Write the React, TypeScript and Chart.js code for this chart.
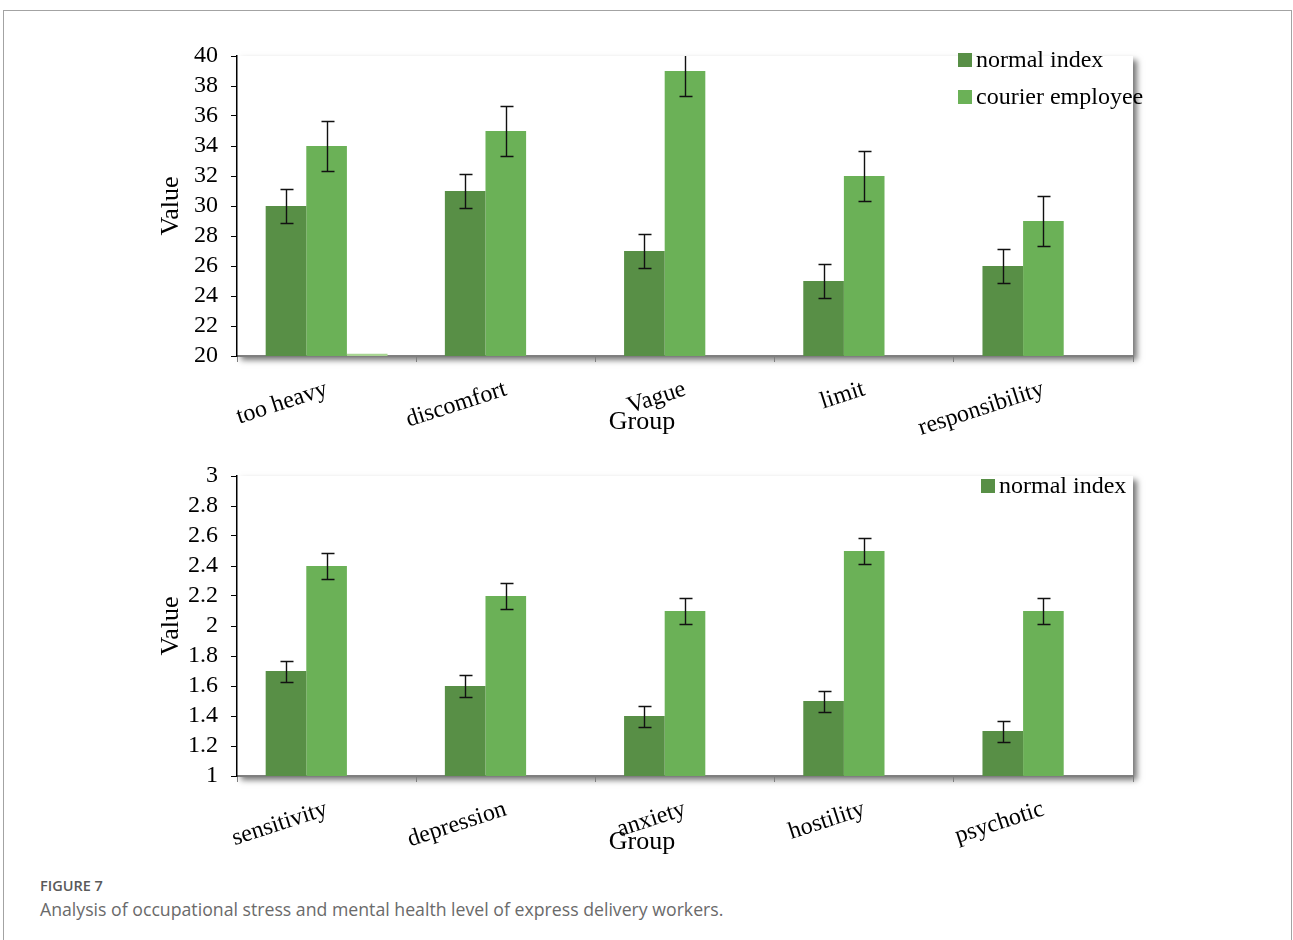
import React, { useEffect, useRef } from "react";
import { Chart, registerables } from "chart.js";

Chart.register(...registerables);

// Occupational stress panel
const stressGroups = ["too heavy", "discomfort", "Vague", "limit", "responsibility"];
const stressNormal = [30, 31, 27, 25, 26];
const stressCourier = [34, 35, 39, 32, 29];
const stressExtra = [20.15, null, null, null, null];
const stressNormalErr = [1.15, 1.15, 1.15, 1.15, 1.15];
const stressCourierErr = [1.67, 1.65, 1.67, 1.67, 1.67];

// Mental health panel
const healthGroups = ["sensitivity", "depression", "anxiety", "hostility", "psychotic"];
const healthNormal = [1.7, 1.6, 1.4, 1.5, 1.3];
const healthCourier = [2.4, 2.2, 2.1, 2.5, 2.1];
const healthExtra = [null, null, null, null, null];
const healthNormalErr = [0.07, 0.07, 0.07, 0.07, 0.07];
const healthCourierErr = [0.085, 0.085, 0.085, 0.085, 0.085];

const SERIES_NAMES = ["normal index", "courier employee"];

const DARK = "#588f46";
const LIGHT = "#6bb157";
const PALE = "#a8d592";
const SERIF = '"Liberation Serif", "Times New Roman", serif';

type Series = {
  label: string;
  values: (number | null)[];
  color: string;
  errors?: number[];
};

type PanelProps = {
  top: number;
  height: number;
  plotTop: number;
  groups: string[];
  series: Series[];
  yMin: number;
  yMax: number;
  yStep: number;
  legendLabels: string[];
  legendX: number;
  legendY: number;
};

function BarPanel(props: PanelProps) {
  const ref = useRef<HTMLCanvasElement>(null);

  useEffect(() => {
    const canvas = ref.current;
    if (!canvas) return;
    const { series, groups, yMin, yMax, yStep, legendLabels, legendX, legendY, plotTop } = props;

    const decor = {
      id: "panelDecor",
      // white plot panel with a soft drop shadow to the lower right
      beforeDraw(chart: any) {
        const { ctx, chartArea } = chart;
        ctx.save();
        ctx.shadowColor = "rgba(0,0,0,0.55)";
        ctx.shadowBlur = 6;
        ctx.shadowOffsetX = 4;
        ctx.shadowOffsetY = 4;
        ctx.fillStyle = "#ffffff";
        ctx.fillRect(chartArea.left, chartArea.top, chartArea.width, chartArea.height);
        ctx.restore();
      },
      // error bars
      afterDatasetsDraw(chart: any) {
        const { ctx, chartArea } = chart;
        const yScale = chart.scales.y;
        ctx.save();
        ctx.beginPath();
        ctx.rect(chartArea.left, chartArea.top, chartArea.width, chartArea.height);
        ctx.clip();
        ctx.strokeStyle = "#111111";
        ctx.lineWidth = 1.4;
        series.forEach((s, i) => {
          if (!s.errors) return;
          const meta = chart.getDatasetMeta(i);
          meta.data.forEach((bar: any, j: number) => {
            const v = s.values[j];
            if (v == null) return;
            const e = s.errors![j];
            const x = Math.round(bar.x) + 0.5;
            const yHi = Math.round(yScale.getPixelForValue(v + e)) + 0.5;
            const yLo = Math.round(yScale.getPixelForValue(v - e)) + 0.5;
            ctx.beginPath();
            ctx.moveTo(x, yHi);
            ctx.lineTo(x, yLo);
            ctx.moveTo(x - 6, yHi);
            ctx.lineTo(x + 7, yHi);
            ctx.moveTo(x - 6, yLo);
            ctx.lineTo(x + 7, yLo);
            ctx.stroke();
          });
        });
        ctx.restore();
      },
      // legend and x-axis title
      afterDraw(chart: any) {
        const { ctx, chartArea } = chart;
        ctx.save();
        ctx.font = `24px ${SERIF}`;
        ctx.textBaseline = "middle";
        ctx.textAlign = "left";
        legendLabels.forEach((name, k) => {
          const s = series.find((d) => d.label === name);
          if (!s) return;
          const cy = legendY + k * 37;
          ctx.fillStyle = s.color;
          ctx.fillRect(legendX, cy - 7, 14, 14);
          ctx.fillStyle = "#000000";
          ctx.fillText(name, legendX + 18, cy + 1);
        });
        ctx.font = `26px ${SERIF}`;
        ctx.textAlign = "center";
        ctx.fillText("Group", (chartArea.left + chartArea.right) / 2 - 43, chartArea.bottom + 66);
        ctx.restore();
      },
    };

    const chart = new Chart(canvas, {
      type: "bar",
      data: {
        labels: groups,
        datasets: series.map((s) => ({
          label: s.label,
          data: s.values as any,
          backgroundColor: s.color,
          borderWidth: 0,
          barPercentage: 1,
          categoryPercentage: 0.68,
        })),
      },
      options: {
        responsive: false,
        animation: false,
        devicePixelRatio: 1,
        layout: { padding: { top: plotTop, left: 150, right: 160, bottom: 0 } },
        plugins: {
          legend: { display: false },
          tooltip: { enabled: false },
        },
        scales: {
          x: {
            grid: {
              display: true,
              drawOnChartArea: false,
              drawTicks: true,
              tickLength: 6,
              color: "#7f7f7f",
              offset: true,
            },
            border: { display: true, color: "#7f7f7f", width: 2 },
            ticks: {
              font: { family: SERIF, size: 24 },
              color: "#000000",
              minRotation: 18,
              maxRotation: 18,
              autoSkip: false,
              padding: 13,
            },
            afterFit: (s: any) => {
              s.height = 86;
            },
          },
          y: {
            min: yMin,
            max: yMax,
            ticks: {
              stepSize: yStep,
              autoSkip: false,
              font: { family: SERIF, size: 24 },
              color: "#000000",
              padding: 13,
              callback: (v: any) => String(Math.round(Number(v) * 10) / 10),
            },
            grid: { drawOnChartArea: false, drawTicks: true, tickLength: 6, color: "#000000" },
            border: { display: true, color: "#000000", width: 1.5 },
            title: {
              display: true,
              text: "Value",
              font: { family: SERIF, size: 26 },
              color: "#000000",
              padding: { top: 6, bottom: 0 },
            },
            afterFit: (s: any) => {
              s.width = 87;
            },
          },
        },
      },
      plugins: [decor],
    } as any);

    return () => chart.destroy();
  }, []);

  return (
    <canvas
      ref={ref}
      width={1293}
      height={props.height}
      style={{ position: "absolute", left: 0, top: props.top, display: "block" }}
    />
  );
}

export default function App() {
  const stressSeries: Series[] = [
    { label: SERIES_NAMES[0], values: stressNormal, color: DARK, errors: stressNormalErr },
    { label: SERIES_NAMES[1], values: stressCourier, color: LIGHT, errors: stressCourierErr },
    { label: "", values: stressExtra, color: PALE },
  ];
  const healthSeries: Series[] = [
    { label: SERIES_NAMES[0], values: healthNormal, color: DARK, errors: healthNormalErr },
    { label: SERIES_NAMES[1], values: healthCourier, color: LIGHT, errors: healthCourierErr },
    { label: "", values: healthExtra, color: PALE },
  ];

  return (
    <div>
      <div
        style={{
          position: "absolute",
          left: 3,
          top: 10,
          width: 1289,
          height: 930,
          boxSizing: "border-box",
          borderTop: "1px solid #a3a3a3",
          borderLeft: "1px solid #a3a3a3",
          borderRight: "1px solid #a3a3a3",
          background: "#ffffff",
        }}
      />
      <BarPanel
        top={0}
        height={442}
        plotTop={56}
        groups={stressGroups}
        series={stressSeries}
        yMin={20}
        yMax={40}
        yStep={2}
        legendLabels={[SERIES_NAMES[0], SERIES_NAMES[1]]}
        legendX={958}
        legendY={60}
      />
      <BarPanel
        top={442}
        height={420}
        plotTop={34}
        groups={healthGroups}
        series={healthSeries}
        yMin={1}
        yMax={3}
        yStep={0.2}
        legendLabels={[SERIES_NAMES[0]]}
        legendX={981}
        legendY={44}
      />
      <div
        style={{
          position: "absolute",
          left: 40,
          top: 877,
          fontFamily: '"Open Sans", "Noto Sans", sans-serif',
          fontSize: 14.5,
          fontWeight: 600,
          color: "#5a5a5a",
          lineHeight: "18px",
          whiteSpace: "nowrap",
        }}
      >
        FIGURE 7
      </div>
      <div
        style={{
          position: "absolute",
          left: 40,
          top: 898,
          fontFamily: '"Open Sans", "Noto Sans", sans-serif',
          fontSize: 17.7,
          color: "#6a6a6a",
          lineHeight: "22px",
          whiteSpace: "nowrap",
        }}
      >
        Analysis of occupational stress and mental health level of express delivery workers.
      </div>
    </div>
  );
}
